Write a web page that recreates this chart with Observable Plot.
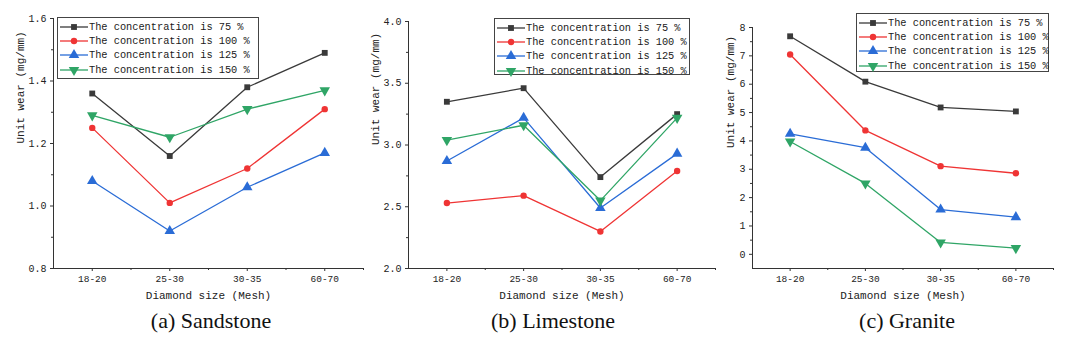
<!DOCTYPE html>
<html>
<head>
<meta charset="utf-8">
<script src="https://cdn.jsdelivr.net/npm/d3@7"></script>
<script src="https://cdn.jsdelivr.net/npm/@observablehq/plot@0.6"></script>
<style>
  html, body { margin: 0; padding: 0; background: #fff; }
  #root { position: relative; width: 1066px; height: 345px; overflow: hidden; background: #fff; }
  .panel { position: absolute; top: 0; }
  .caption { position: absolute; font-family: "Liberation Serif", "Times New Roman", serif; font-size: 22px; color: #111; transform: translateX(-50%); white-space: nowrap; }
  .legend { position: absolute; border: 1px solid #444; background: #fff; box-sizing: border-box; padding: 2px 0 0 2px; font-family: "Liberation Mono", monospace; font-size: 10.3px; color: #1a1a1a; }
  .legend .row { display: flex; align-items: center; height: 14.2px; white-space: nowrap; }
  .legend svg { margin-right: 1px; flex: none; }
</style>
</head>
<body>
<div id="root"></div>
<script>
// ---- data ----
const categories = ["18-20", "25-30", "30-35", "60-70"];
const seriesNames = [
  "The concentration is 75 %",
  "The concentration is 100 %",
  "The concentration is 125 %",
  "The concentration is 150 %"
];
// Sandstone
const sandstone75  = [1.36, 1.16, 1.38, 1.49];
const sandstone100 = [1.25, 1.01, 1.12, 1.31];
const sandstone125 = [1.08, 0.92, 1.06, 1.17];
const sandstone150 = [1.29, 1.22, 1.31, 1.37];
// Limestone
const limestone75  = [3.35, 3.46, 2.74, 3.25];
const limestone100 = [2.53, 2.59, 2.30, 2.79];
const limestone125 = [2.87, 3.22, 2.49, 2.93];
const limestone150 = [3.04, 3.16, 2.55, 3.22];
// Granite
const granite75  = [7.69, 6.09, 5.18, 5.04];
const granite100 = [7.05, 4.37, 3.11, 2.86];
const granite125 = [4.25, 3.76, 1.58, 1.31];
const granite150 = [3.98, 2.50, 0.42, 0.22];
// tick labels
const sandstoneTicks = [0.8, 1.0, 1.2, 1.4, 1.6];
const limestoneTicks = [2.0, 2.5, 3.0, 3.5, 4.0];
const graniteTicks = [0, 1, 2, 3, 4, 5, 6, 7, 8];
const captions = ["(a) Sandstone", "(b) Limestone", "(c) Granite"];
const yTitle = "Unit wear (mg/mm)";
const xTitle = "Diamond size (Mesh)";

// ---- styles ----
const colors = ["#3a3a3a", "#ef3434", "#2a6cd6", "#2fa566"];
const triangleDown = {
  draw(context, size) {
    const sqrt3 = Math.sqrt(3);
    const y = -Math.sqrt(size / (sqrt3 * 3));
    context.moveTo(0, -y * 2);
    context.lineTo(-sqrt3 * y, y);
    context.lineTo(sqrt3 * y, y);
    context.closePath();
  }
};
const symbols = ["square", "circle", "triangle", triangleDown];
const radii = [3.3, 3.2, 3.9, 3.9];
const font = '"Liberation Mono", "DejaVu Sans Mono", monospace';

function between(ticks) {
  const out = [];
  for (let k = 0; k < ticks.length - 1; k++) out.push((ticks[k] + ticks[k + 1]) / 2);
  return out;
}

const panels = [
  { left: 0, width: 363, ml: 53, mt: 18, domain: [0.8, 1.6], ticks: sandstoneTicks, fmt: d3.format(".1f"),
    values: [sandstone75, sandstone100, sandstone125, sandstone150],
    legend: { x: 57, y: 17, w: 202, h: 62 }, capX: 211 },
  { left: 355, width: 360, ml: 53, mt: 21, domain: [2.0, 4.0], ticks: limestoneTicks, fmt: d3.format(".1f"),
    values: [limestone75, limestone100, limestone125, limestone150],
    legend: { x: 494, y: 18, w: 196, h: 57 }, capX: 553 },
  { left: 710, width: 343, ml: 42, mt: 27, domain: [-0.5, 8], ticks: graniteTicks, fmt: d3.format("d"),
    values: [granite75, granite100, granite125, granite150],
    legend: { x: 856, y: 13, w: 193, h: 59 }, capX: 907 }
];

const root = document.getElementById("root");
const H = 300, MB = 32;

panels.forEach((p, pi) => {
  const data = [];
  p.values.forEach((vals, s) => vals.forEach((v, i) => data.push({ i, v, s: seriesNames[s], si: s })));
  const minorY = between(p.ticks);
  const dotMarks = seriesNames.map((name, s) =>
    Plot.dot(data.filter(d => d.si === s), {
      x: "i", y: "v", fill: colors[s], stroke: "none", r: radii[s], symbol: symbols[s]
    })
  );
  const chart = Plot.plot({
    width: p.width,
    height: H,
    marginLeft: p.ml,
    marginRight: 0,
    marginTop: p.mt,
    marginBottom: MB,
    x: { type: "linear", domain: [-0.5, 3.5], axis: null, label: null },
    y: { domain: p.domain, axis: null, label: null },
    style: { fontFamily: font, fontSize: "9.5px", color: "#222", background: "transparent", overflow: "visible" },
    marks: [
      Plot.axisX([0, 1, 2, 3], { tickSize: 3, tickPadding: 4, tickFormat: i => categories[i], label: null, fontSize: 9.5, stroke: "#333" }),
      Plot.axisX([0.5, 1.5, 2.5, 3.5], { tickSize: 2, tickFormat: () => "", label: null, stroke: "#333" }),
      Plot.axisY(p.ticks, { tickSize: 3, tickPadding: 4, tickFormat: p.fmt, label: null, fontSize: 10, stroke: "#333" }),
      Plot.axisY(minorY, { tickSize: 2, tickFormat: () => "", label: null, stroke: "#333" }),
      Plot.ruleX([-0.5], { stroke: "#333", strokeWidth: 1 }),
      Plot.ruleY([p.domain[0]], { stroke: "#333", strokeWidth: 1 }),
      Plot.line(data, { x: "i", y: "v", z: "s", stroke: d => colors[d.si], strokeWidth: 1.3 }),
      ...dotMarks,
      Plot.text([yTitle], { text: d => d, frameAnchor: "left", rotate: -90, dx: 20 - p.ml, fontSize: 11, fill: "#222", fontFamily: font }),
      Plot.text([xTitle], { text: d => d, frameAnchor: "bottom", dy: 30, fontSize: 11, fill: "#222", fontFamily: font })
    ]
  });
  const wrap = document.createElement("div");
  wrap.className = "panel";
  wrap.style.left = p.left + "px";
  wrap.appendChild(chart);
  root.appendChild(wrap);

  // legend
  const lg = document.createElement("div");
  lg.className = "legend";
  lg.style.left = p.legend.x + "px";
  lg.style.top = p.legend.y + "px";
  lg.style.width = p.legend.w + "px";
  lg.style.height = p.legend.h + "px";
  seriesNames.forEach((name, s) => {
    const row = document.createElement("div");
    row.className = "row";
    const sw = d3.create("svg").attr("width", 28).attr("height", 14);
    sw.append("line").attr("x1", 0).attr("x2", 28).attr("y1", 7).attr("y2", 7)
      .attr("stroke", colors[s]).attr("stroke-width", 1.3);
    const sym = typeof symbols[s] === "string"
      ? { square: d3.symbolSquare, circle: d3.symbolCircle, triangle: d3.symbolTriangle }[symbols[s]]
      : symbols[s];
    sw.append("path").attr("transform", "translate(14,7)")
      .attr("d", d3.symbol(sym, Math.PI * radii[s] * radii[s])())
      .attr("fill", colors[s]);
    row.appendChild(sw.node());
    const t = document.createElement("span");
    t.textContent = name;
    row.appendChild(t);
    lg.appendChild(row);
  });
  root.appendChild(lg);

  const cap = document.createElement("div");
  cap.className = "caption";
  cap.style.left = p.capX + "px";
  cap.style.top = "308px";
  cap.textContent = captions[pi];
  root.appendChild(cap);
});
</script>
</body>
</html>
